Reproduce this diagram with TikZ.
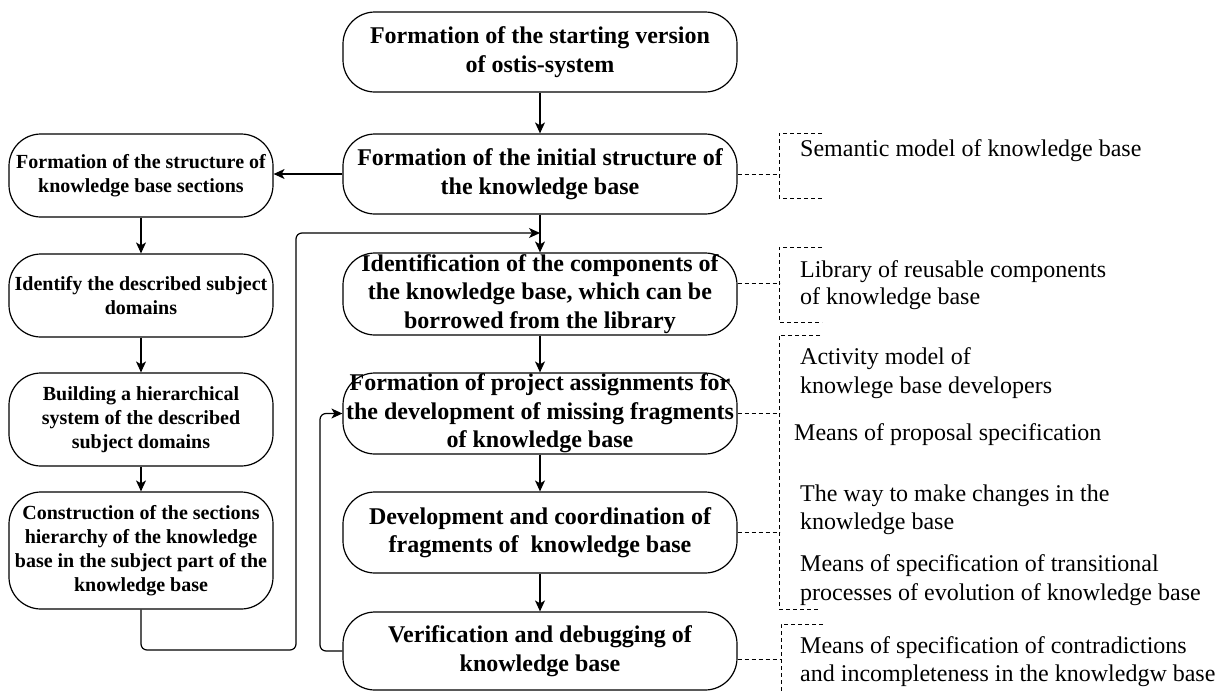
\documentclass[tikz,border=0pt]{standalone}
\usepackage{fontspec}
\setmainfont{Liberation Serif}
\usetikzlibrary{arrows.meta}
\begin{document}
\begin{tikzpicture}[x=1pt,y=-1pt,
  stepbox/.style={draw, line width=1.2pt, rounded corners=32pt, align=center, inner sep=0pt},
  mainbox/.style={stepbox, minimum width=394pt, font=\bfseries\fontsize{24}{28.5}\selectfont},
  sidebox/.style={stepbox, minimum width=264pt, font=\bfseries\fontsize{20}{24}\selectfont},
  arr/.style={line width=1.2pt, -{Stealth[length=11pt,width=10pt,inset=3pt]}},
  dashline/.style={line width=1pt, dash pattern=on 4pt off 3pt},
  note/.style={anchor=base west, inner sep=0pt, font=\fontsize{24}{28}\selectfont}
]
\useasboundingbox (0,0) rectangle (1215,691);

% main process column
\node[mainbox, minimum height=80pt] (b1) at (540,52) {Formation of the starting version\\of ostis-system};
\node[mainbox, minimum height=80pt] (b2) at (540,174) {Formation of the initial structure of\\the knowledge base};
\node[mainbox, minimum height=82pt] (b3) at (540,294) {Identification of the components of\\the knowledge base, which can be\\borrowed from the library};
\node[mainbox, minimum height=81pt] (b4) at (540,413.5) {Formation of project assignments for\\the development of missing fragments\\of knowledge base};
\node[mainbox, minimum height=81pt] (b5) at (540,532.5) {Development and coordination of\\fragments of\ \ knowledge base};
\node[mainbox, minimum height=78pt] (b6) at (540,651) {Verification and debugging of\\knowledge base};

% structure branch
\node[sidebox, minimum height=83pt] (l1) at (141,175.5) {Formation of the structure of\\knowledge base sections};
\node[sidebox, minimum height=83pt] (l2) at (141,295.5) {Identify the described subject\\domains};
\node[sidebox, minimum height=93pt] (l3) at (141,419.5) {Building a hierarchical\\system of the described\\subject domains};
\node[sidebox, minimum height=117pt] (l4) at (141,550.5) {Construction of the sections\\hierarchy of the knowledge\\base in the subject part of the\\knowledge base};

% flow
\draw[arr] (b1) -- (b2);
\draw[arr] (b2) -- (b3);
\draw[arr] (b3) -- (b4);
\draw[arr] (b4) -- (b5);
\draw[arr] (b5) -- (b6);
\draw[arr] (b2.west) -- (b2.west -| l1.east);
\draw[arr] (l1) -- (l2);
\draw[arr] (l2) -- (l3);
\draw[arr] (l3) -- (l4);

% return loops
\coordinate (j1) at (540,233);
\coordinate (x1) at (296,650);
\draw[arr, rounded corners=6pt] (l4.south) -- (l4.south |- x1) -- (x1) -- (x1 |- j1) -- (j1);
\coordinate (x2) at (320,0);
\draw[arr, rounded corners=6pt] (b6.west) -- (b6.west -| x2) -- (b4.west -| x2) -- (b4.west);

% resource brackets
\draw[dashline] (b2.east) -- ++(42,0);
\draw[dashline] (822,133) -- (779,133) -- (779,198) -- (822,198);
\draw[dashline] ([yshift=11pt]b3.east) -- ++(42,0);
\draw[dashline] (822,247) -- (779,247) -- (779,322) -- (822,322);
\draw[dashline] (b4.east) -- ++(42,0);
\draw[dashline] (b5.east) -- ++(42,0);
\draw[dashline] (820,335) -- (779,335) -- (779,609) -- (820,609);
\draw[dashline] ([yshift=-8.5pt]b6.east) -- ++(44,0);
\draw[dashline] (823,624) -- (781,624) -- (781,700);

% resources
\node[note] (n1) at (800,156) {Semantic model of knowledge base};
\node[note] (n2a) at (800,277) {Library of reusable components};
\node[note] (n2b) at (800,304) {of knowledge base};
\node[note] (n3a) at (800,364) {Activity model of};
\node[note] (n3b) at (800,393) {knowlege base developers};
\node[note] (n4) at (794,440.5) {Means of proposal specification};
\node[note] (n5a) at (800,501) {The way to make changes in the};
\node[note] (n5b) at (800,529) {knowledge base};
\node[note] (n6a) at (800,571.5) {Means of specification of transitional};
\node[note] (n6b) at (800,600) {processes of evolution of knowledge base};
\node[note] (n7a) at (800,653) {Means of specification of contradictions};
\node[note] (n7b) at (800,681.5) {and incompleteness in the knowledgw base};
\end{tikzpicture}
\end{document}
